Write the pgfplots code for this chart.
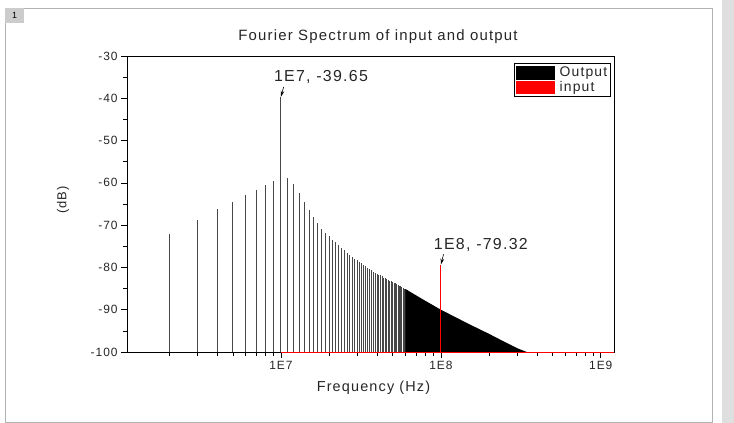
\documentclass[border=0pt]{standalone}
\usepackage{fontspec}
\setmainfont{Liberation Sans}[LetterSpace=8]
\usepackage{pgfplots}
\pgfplotsset{compat=1.18}
\usetikzlibrary{arrows.meta}
\begin{document}
\begin{tikzpicture}
\useasboundingbox (-127bp,-71bp) rectangle (607bp,352bp);
% page decoration
\fill[gray!25] (595bp,-71bp) rectangle (607bp,352bp);
\draw[gray!60, line width=0.8bp] (-122bp,-70bp) rectangle (585bp,344bp);
\fill[gray!40] (-122bp,344bp) rectangle (-103bp,329bp);
\node[font=\fontsize{9}{10}\selectfont] at (-112.5bp,336.5bp) {1};
\begin{axis}[
  at={(0bp,0bp)}, anchor=south west,
  scale only axis, width=487bp, height=296bp,
  xmode=log, xmin=1.09e6, xmax=1.21e9,
  ymin=0, ymax=70,
  xtick={1e7,1e8,1e9}, xticklabels={1E7,1E8,1E9},
  minor xtick={2e6,3e6,4e6,5e6,6e6,7e6,8e6,9e6,2e7,3e7,4e7,5e7,6e7,7e7,8e7,9e7,2e8,3e8,4e8,5e8,6e8,7e8,8e8,9e8},
  ytick={0,10,...,70}, yticklabels={-100,-90,-80,-70,-60,-50,-40,-30},
  minor y tick num=1,
  tick pos=left, tick align=outside,
  major tick length=6bp, minor tick length=4bp,
  tick style={black, line width=0.6bp},
  axis line style={black, line width=0.8bp},
  /pgf/number format/assume math mode=true,
  ticklabel style={font=\fontsize{12}{14}\selectfont, text=black!85},
  clip=false,
  legend style={at={(0.9938,0.976)}, anchor=north east, draw=black, line width=0.7bp,
    font=\fontsize{14}{15}\selectfont, inner sep=1.5bp, row sep=-0.5bp, text=black!85,
    /tikz/every odd column/.style={column sep=3bp}},
  legend cell align=left,
  dB/.style={y filter/.expression={y+100}},
]
% Output spectrum: harmonics of 1 MHz (values in dB)
\addplot[dB, ycomb, black!72, line width=1bp, forget plot] coordinates {
(2e6,-72.1) (3e6,-68.8) (4e6,-66.2) (5e6,-64.5) (6e6,-62.8) (7e6,-61.7) (8e6,-60.5) (9e6,-59.6)
(10e6,-39.65) (11e6,-58.8) (12e6,-60.2) (13e6,-62.4) (14e6,-64.5) (15e6,-66.4) (16e6,-68.1)
(17e6,-69.5) (18e6,-70.9) (19e6,-71.8) (20e6,-72.6) (21e6,-73.4) (22e6,-74.1) (23e6,-74.8)
(24e6,-75.4) (25e6,-75.9) (26e6,-76.5) (27e6,-77.0) (28e6,-77.5) (29e6,-77.9) (30e6,-78.3)
(31e6,-78.7) (32e6,-79.0) (33e6,-79.4) (34e6,-79.7) (35e6,-80.1) (36e6,-80.4) (37e6,-80.7)
(38e6,-81.0) (39e6,-81.2) (40e6,-81.5) (41e6,-81.7) (42e6,-81.9) (43e6,-82.1) (44e6,-82.4)
(45e6,-82.6) (46e6,-82.7) (47e6,-82.9) (48e6,-83.1) (49e6,-83.3) (50e6,-83.5) (51e6,-83.7)
(52e6,-83.8) (53e6,-84.0) (54e6,-84.2) (55e6,-84.3) (56e6,-84.5) (57e6,-84.7) (58e6,-84.8)
(59e6,-85.0) (60e6,-85.1) (61e6,-85.3) (62e6,-85.4) (63e6,-85.6) (64e6,-85.7)
};
% dense part of the output spectrum (lines merge)
\addplot[dB, fill=black, draw=none, forget plot] coordinates {
(60e6,-100) (60e6,-85.1) (70e6,-86.6) (80e6,-87.9) (100e6,-90.0) (150e6,-93.4)
(200e6,-95.7) (250e6,-97.6) (300e6,-99.1) (345e6,-100)
} -- cycle;
% input spectrum
\addplot[dB, red, line width=0.9bp, forget plot] coordinates {(1e7,-100) (1.21e9,-100)};
\addplot[dB, ycomb, red, line width=0.9bp, forget plot] coordinates {(1e8,-79.32)};
\addlegendimage{legend image code/.code={\fill[black] (0bp,-6.3bp) rectangle (38bp,6.3bp);}}
\addlegendentry{Output}
\addlegendimage{legend image code/.code={\fill[red] (0bp,-6.3bp) rectangle (38bp,6.3bp);}}
\addlegendentry{input}
% annotations (axis shifted by +100 dB)
\draw[-{Stealth[length=6bp,width=3.5bp]}, line width=0.6bp] (axis cs:1.04e7,62.7) -- (axis cs:1e7,60.35);
\node[font=\fontsize{16}{18}\selectfont, text=black!85] at (axis cs:1.78e7,65.0) {1E7, -39.65};
\draw[-{Stealth[length=6bp,width=3.5bp]}, line width=0.6bp] (axis cs:1.04e8,23.1) -- (axis cs:1e8,20.68);
\node[font=\fontsize{16}{18}\selectfont, text=black!85] at (axis cs:1.78e8,25.4) {1E8, -79.32};
\end{axis}
\node[font=\fontsize{15}{17}\selectfont, text=black!85] at (251bp,315bp) {Fourier Spectrum of input and output};
\node[font=\fontsize{14.5}{17}\selectfont, text=black!85] at (246.5bp,-36bp) {Frequency (Hz)};
\node[font=\fontsize{13}{15}\selectfont, text=black!85, rotate=90] at (-64bp,152bp) {(dB)};
\end{tikzpicture}
\end{document}
